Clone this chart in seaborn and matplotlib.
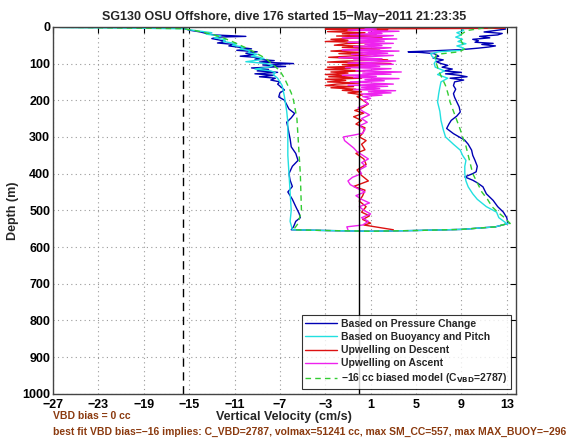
import pandas as pd
import seaborn as sns
import matplotlib.pyplot as plt

sns.set_theme(style="white", context="paper")
plt.rcParams["font.family"] = ["Liberation Sans", "DejaVu Sans"]
plt.rcParams["mathtext.default"] = "bf"

# --------------------------------------------------
# Data
# --------------------------------------------------
# descent, velocity from pressure change
desc_press_depth = [5, 9, 14, 18, 22, 26, 28, 32, 36, 40, 44, 48, 52, 56, 60, 64, 68, 72, 76, 80,
                    84, 88, 92, 96, 100, 104, 108, 112, 116, 120, 124, 128, 132, 136, 140, 145,
                    150, 156, 164, 172, 180, 191, 200, 212, 224, 236, 248, 260, 273, 290, 305,
                    327, 345, 364, 380, 400, 418, 435, 450, 470, 490, 509, 520, 530, 545, 553]
desc_press_w = [-15.4, -15.0, -14.0, -13.5, -12.8, -10.0, -12.5, -13.0, -12.3, -11.8, -12.5, -11.0,
                -11.5, -10.5, -9.5, -10.8, -9.0, -10.0, -9.3, -10.5, -8.7, -9.2, -7.5, -8.8, -5.8,
                -8.5, -6.5, -9.5, -8.0, -9.0, -7.2, -9.2, -7.5, -8.8, -7.4, -7.8, -7.0, -7.2, -6.9,
                -6.6, -7.0, -7.1, -6.6, -6.4, -6.2, -5.7, -6.0, -6.4, -6.3, -6.2, -6.1, -6.0, -5.6,
                -5.4, -5.9, -6.2, -6.1, -5.9, -6.3, -5.9, -5.6, -5.3, -5.2, -5.6, -5.8, -6.0]

# descent, velocity from buoyancy and pitch
desc_buoy_depth = [2, 5, 10, 16, 20, 25, 30, 35, 40, 46, 50, 55, 60, 65, 70, 75, 80, 86, 90, 95,
                   100, 105, 110, 115, 120, 125, 130, 140, 150, 160, 175, 190, 210, 230, 260,
                   300, 350, 400, 450, 500, 530, 553]
desc_buoy_w = [-26.4, -15.6, -14.5, -13.0, -13.5, -12.2, -12.8, -11.8, -12.0, -10.8, -11.2, -10.2,
               -10.5, -9.6, -9.8, -9.0, -9.5, -8.4, -8.8, -10.0, -8.2, -7.6, -8.0, -9.2, -7.8,
               -7.4, -7.6, -7.2, -7.0, -6.8, -6.7, -6.6, -6.5, -6.4, -6.3, -6.3, -6.3, -6.2,
               -6.1, -6.0, -6.1, -5.9]

# descent, -16 cc biased model
desc_model_depth = [1, 5, 10, 20, 30, 40, 50, 60, 70, 80, 90, 100, 120, 140, 160, 180, 200, 250,
                    300, 350, 400, 450, 500, 536, 553]
desc_model_w = [-26.5, -15.5, -14.5, -13.0, -12.0, -11.2, -10.5, -9.8, -9.2, -8.6, -8.1, -7.7,
                -7.0, -6.6, -6.3, -6.0, -5.8, -5.5, -5.4, -5.3, -5.2, -5.15, -5.1, -5.4, -5.8]

# bottom turn (shared by the three velocity estimates)
turn_depth = [555, 557, 555, 552, 545, 536]
turn_w = [-3.0, 1.0, 5.0, 9.0, 12.0, 13.1]

# ascent, velocity from pressure change
asc_press_depth = [536, 520, 505, 490, 473, 455, 436, 425, 418, 409, 400, 395, 380, 364, 350, 336,
                   320, 309, 300, 291, 277, 265, 255, 243, 232, 218, 205, 192, 182, 170, 160, 150,
                   145, 140, 136, 132, 128, 124, 120, 115, 110, 105, 100, 95, 90, 85, 80, 73, 70,
                   68, 66, 62, 58, 55, 52, 48, 45, 42, 38, 34, 30, 26, 22, 18, 14, 10, 6, 3, 1]
asc_press_w = [13.1, 13.0, 12.7, 12.2, 11.8, 11.2, 10.9, 10.4, 10.0, 9.3, 10.0, 10.3, 10.4, 10.2,
               10.0, 9.9, 9.6, 9.3, 8.8, 8.3, 7.7, 7.9, 8.1, 8.6, 8.9, 8.8, 8.6, 8.4, 8.3, 8.5,
               8.3, 8.4, 9.2, 8.0, 9.5, 8.8, 7.6, 9.0, 7.5, 8.2, 7.3, 7.8, 7.2, 6.8, 7.4, 6.5,
               7.0, 6.6, 5.5, 4.3, 6.0, 9.0, 10.5, 11.4, 12.0, 10.8, 11.8, 10.2, 10.5, 10.0, 11.5,
               10.6, 12.2, 12.6, 11.0, 12.0, 12.9, 12.5, 13.0]

# ascent, velocity from buoyancy and pitch
asc_buoy_depth = [536, 520, 505, 490, 470, 455, 436, 420, 400, 380, 364, 350, 336, 320, 300, 280,
                  255, 230, 205, 182, 165, 150, 140, 130, 120, 110, 100, 90, 80, 73, 68, 64, 58,
                  52, 46, 40, 34, 28, 22, 16, 10, 5, 2]
asc_buoy_w = [13.0, 12.3, 12.1, 11.2, 10.4, 10.0, 9.6, 9.4, 9.3, 9.3, 9.4, 9.1, 8.9, 8.3, 7.6, 7.4,
              7.2, 7.1, 6.9, 7.0, 7.1, 7.2, 7.8, 6.9, 7.5, 6.7, 6.6, 6.8, 6.4, 6.3, 7.0, 9.0,
              9.2, 8.6, 9.4, 8.7, 9.1, 8.5, 9.0, 8.6, 9.2, 9.0, 11.0]

# ascent, -16 cc biased model
asc_model_depth = [536, 520, 505, 490, 470, 450, 425, 400, 375, 350, 325, 300, 280, 255, 230, 205,
                   180, 160, 140, 120, 100, 85, 75, 68, 60, 50, 40, 30, 20, 10, 3, 1]
asc_model_w = [13.3, 12.8, 12.2, 11.7, 11.3, 10.8, 10.4, 10.0, 9.8, 9.6, 9.4, 9.1, 8.9, 8.6, 8.3,
               8.0, 7.8, 7.6, 7.3, 7.0, 6.8, 6.7, 6.8, 8.8, 9.3, 9.2, 9.0, 8.9, 9.0, 9.5, 11.0, 13.0]

# upwelling on descent
upw_desc_depth = [4, 6, 8, 10, 13, 16, 19, 22, 25, 28, 31, 34, 37, 40, 43, 46, 50, 53, 56, 60, 63,
                  66, 70, 73, 76, 80, 83, 86, 90, 93, 96, 100, 103, 106, 110, 113, 116, 120, 123,
                  126, 130, 133, 136, 140, 143, 146, 150, 153, 156, 160, 163, 166, 170, 173, 177,
                  180, 185, 190, 200, 210, 220, 228, 235, 245, 255, 265, 275, 290, 300, 310, 320,
                  335, 345, 360, 375, 390, 405, 420, 435, 445, 460, 475, 490, 505, 515, 525, 535,
                  540, 548, 553]
upw_desc_w = [12.8, -3.0, 2.5, -1.0, -2.8, 0.5, -1.5, 1.5, -2.0, 2.0, -0.5, -2.5, -1.0, -3.0, 0.8,
              -1.2, -2.2, 0.5, -1.5, 1.8, -0.8, -2.5, 0.3, -1.8, 1.0, -1.0, -2.7, -0.5, 2.5, -1.0,
              -2.8, 2.8, -1.5, 0.5, -2.8, -0.8, -3.0, 0.5, -2.5, -1.0, -3.0, -0.5, -2.7, 0.2, -3.0,
              -1.2, -2.8, 0.0, -2.0, -3.0, -0.5, -2.5, -0.3, -1.5, 0.2, -1.0, 0.3, -0.2, 0.3, 0.8,
              0.3, -0.4, 0.4, -0.5, 0.2, -0.3, 0.5, 0.3, 0.0, 0.6, 0.2, 0.5, -0.3, 0.4, 0.6, -0.2,
              0.2, 0.8, -0.5, 0.5, 0.3, 0.0, 0.6, 0.2, 0.9, 0.3, 1.0, 0.4, 2.0, 3.0]

# upwelling on ascent
upw_asc_depth = [553, 545, 540, 530, 520, 510, 500, 490, 480, 470, 460, 450, 440, 430, 420, 410,
                 400, 390, 380, 370, 360, 350, 340, 330, 320, 310, 300, 295, 290, 280, 270, 260,
                 250, 240, 230, 220, 210, 200, 195, 190, 186, 183, 180, 177, 174, 171, 168, 165,
                 162, 159, 156, 153, 150, 147, 144, 141, 138, 135, 132, 129, 126, 123, 120, 117,
                 114, 111, 108, 105, 102, 99, 96, 93, 90, 87, 84, 81, 78, 75, 72, 69, 66, 63, 60,
                 57, 54, 51, 48, 45, 42, 39, 36, 33, 30, 27, 24, 21, 18, 15, 12, 9, 6, 3]
upw_asc_w = [-1.0, -1.1, 0.3, 0.8, 0.2, 1.0, 0.4, 0.0, 0.9, 0.2, -0.3, 0.5, -0.2, -0.8, -1.0, -0.6,
             0.2, 0.0, 0.6, 0.2, 0.8, 0.3, -0.2, -0.5, -0.9, -1.3, -1.4, -0.5, 0.3, 0.5, 0.0, 0.7,
             0.2, 0.9, 0.3, -0.1, 0.8, 0.4, 1.0, 0.3, 2.0, 0.2, 2.8, 0.8, 3.2, -0.5, 1.8, 0.2,
             2.5, -1.0, 3.0, 1.0, -0.8, 2.2, 0.5, 3.5, -0.5, 1.5, -1.5, 2.8, 0.3, 3.7, -0.3, 1.2,
             2.8, -1.2, 1.8, 0.0, 3.0, -1.0, 1.5, 3.2, -0.5, 2.0, -1.8, 1.0, 3.0, -0.7, 2.5, 0.0,
             3.5, -1.5, 1.5, 2.8, -0.5, 2.0, 0.5, 3.0, -1.0, 2.2, 0.0, 3.3, -1.5, 1.5, 3.0, -0.8,
             2.0, 0.8, 3.5, -1.0, 1.5, 0.5]

vbd_line = -15.5
x_ticks = [-27, -23, -19, -15, -11, -7, -3, 1, 5, 9, 13]
y_ticks = [0, 100, 200, 300, 400, 500, 600, 700, 800, 900, 1000]

title = "SG130 OSU Offshore, dive 176 started 15\u2212May\u22122011 21:23:35"
note1 = "VBD bias = 0 cc"
note2 = ("best fit VBD bias=\u221216 implies: C_VBD=2787, volmax=51241 cc, "
         "max SM_CC=557, max MAX_BUOY=\u2212296")

col_press = "#0000b4"
col_buoy = "#22e0e0"
col_desc = "#dd1111"
col_asc = "#ee22ee"
col_model = "#33cc33"
col_note = "#8b3a0f"

# --------------------------------------------------
# Build tables
# --------------------------------------------------
press = pd.DataFrame({
    "depth": desc_press_depth + turn_depth + asc_press_depth,
    "w": desc_press_w + turn_w + asc_press_w,
})
buoy = pd.DataFrame({
    "depth": desc_buoy_depth + turn_depth + asc_buoy_depth,
    "w": desc_buoy_w + turn_w + asc_buoy_w,
})
model = pd.DataFrame({
    "depth": desc_model_depth + turn_depth + asc_model_depth,
    "w": desc_model_w + turn_w + asc_model_w,
})
upw_desc = pd.DataFrame({"depth": upw_desc_depth, "w": upw_desc_w})
upw_asc = pd.DataFrame({"depth": upw_asc_depth, "w": upw_asc_w})

# --------------------------------------------------
# Plot
# --------------------------------------------------
fig = plt.figure(figsize=(5.7, 4.4), dpi=100)
ax = fig.add_axes([0.093, 0.105, 0.812, 0.834])

kw = dict(x="w", y="depth", sort=False, estimator=None, ax=ax, lw=1.0)
sns.lineplot(data=press, color=col_press, label="Based on Pressure Change", **kw)
sns.lineplot(data=buoy, color=col_buoy, label="Based on Buoyancy and Pitch", **kw)
sns.lineplot(data=upw_desc, color=col_desc, label="Upwelling on Descent", **kw)
sns.lineplot(data=upw_asc, color=col_asc, label="Upwelling on Ascent", **kw)
sns.lineplot(data=model, color=col_model, linestyle=(0, (4, 3)),
             label="\u221216 cc biased model (C$_{VBD}$=2787)", **kw)

ax.axvline(vbd_line, color="black", lw=1.0, linestyle=(0, (6, 4)))
ax.axvline(0, color="black", lw=1.0)

ax.set_xlim(-27, 13.8)
ax.set_ylim(1000, 0)
ax.set_xticks(x_ticks)
ax.set_yticks(y_ticks)
ax.set_xticklabels([str(t).replace("-", "\u2212") for t in x_ticks])
ax.grid(True, color="#999999", linestyle=(0, (1, 3)), lw=0.8)
ax.tick_params(direction="in", top=True, right=True, length=4, width=0.8,
               labelsize=9, pad=2, colors="black")
ax.tick_params(axis="x", pad=4)
for lbl in ax.get_xticklabels() + ax.get_yticklabels():
    lbl.set_fontweight("bold")
for s in ax.spines.values():
    s.set_color("#444444")
    s.set_linewidth(1.0)

ax.set_xlabel("Vertical Velocity (cm/s)", fontsize=9, fontweight="bold", labelpad=0)
ax.set_ylabel("Depth (m)", fontsize=9, fontweight="bold", labelpad=2)
ax.set_title(title, fontsize=9, fontweight="bold", pad=5)

leg = ax.legend(loc="lower right", fontsize=7.5, frameon=True, fancybox=False,
                edgecolor="black", borderpad=0.35, labelspacing=0.3, handlelength=3.0,
                handletextpad=0.4, borderaxespad=0.45)
leg.get_frame().set_linewidth(0.8)
for t in leg.get_texts():
    t.set_fontweight("bold")

fig.text(0.093, 0.047, note1, fontsize=7.5, fontweight="bold", color=col_note)
fig.text(0.093, 0.012, note2, fontsize=7.5, fontweight="bold", color=col_note)

plt.savefig("out.png", dpi=100)
